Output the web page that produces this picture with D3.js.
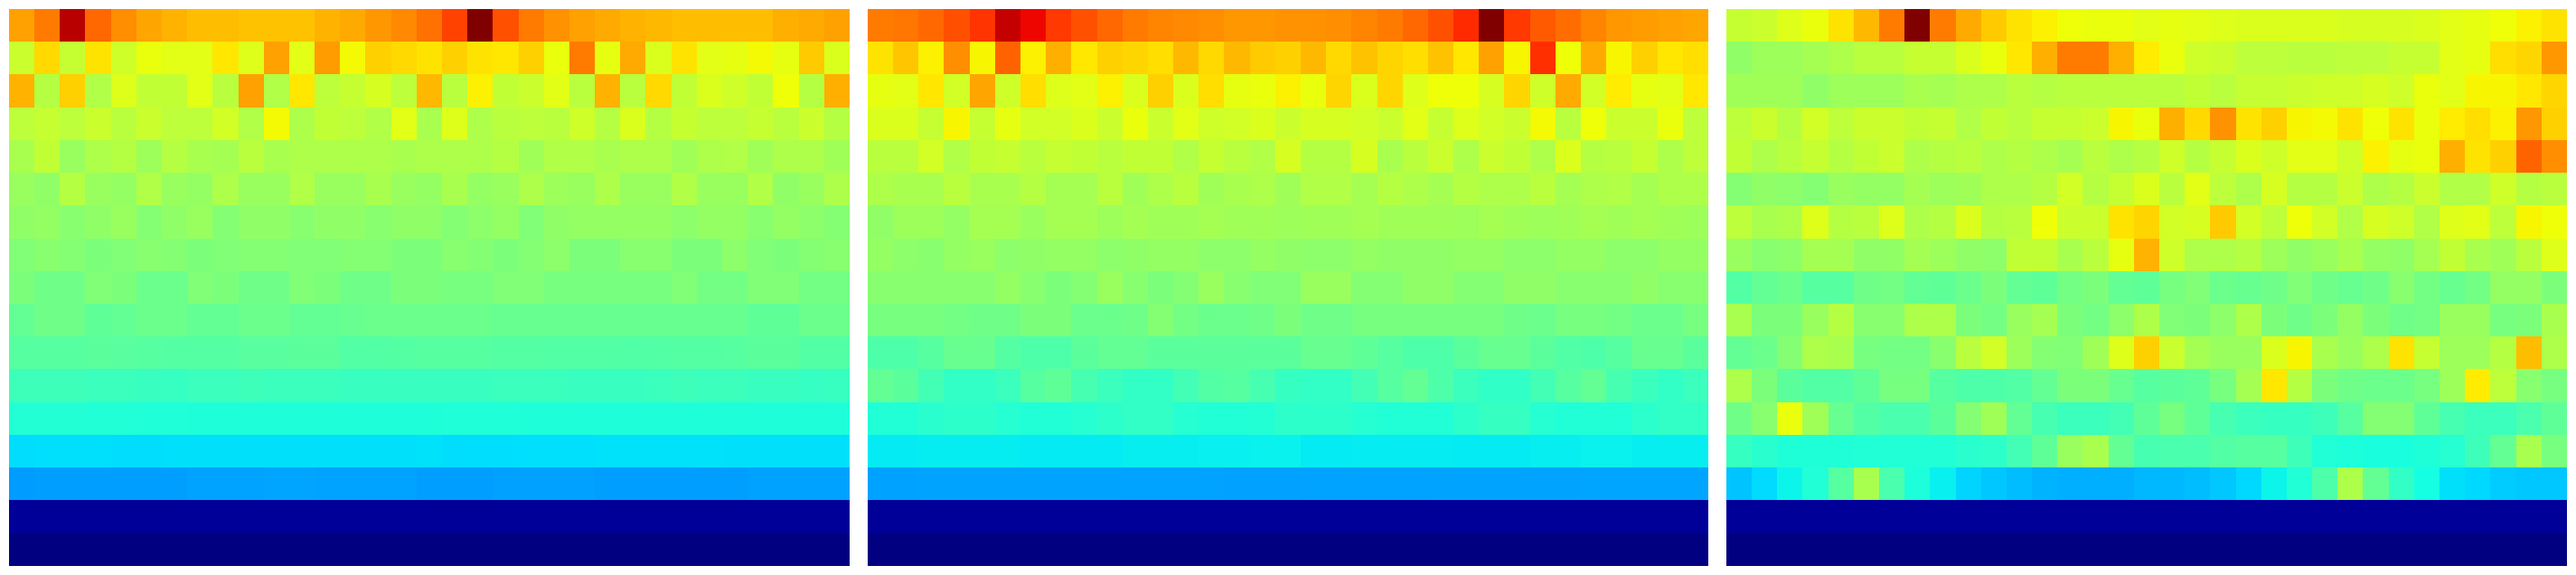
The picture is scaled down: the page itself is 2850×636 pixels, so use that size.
<!DOCTYPE html>
<html>
<head>
<meta charset="utf-8">
<script src="https://cdn.jsdelivr.net/npm/d3@7"></script>
<style>html,body{margin:0;padding:0;background:#fff}svg{display:block}</style>
</head>
<body>
<script>
const panelA = [
[74,78,95,80,76,73.5,72,71,71,70.5,70.5,70.5,72,73,75,76.5,79,84,100,82.5,78,75.5,74,73,72,71.5,71,71,71,71,72.5,73,74],
[59.5,68,59,67,60,63.5,62.5,62.5,66.5,62,74,62.5,74.5,64.5,69,68,67,69,67,66.5,69,63.5,78,63,73,61.5,67,62.5,63,64.5,63,69.5,61.5],
[72,57,69,56.5,62,58.5,58.5,62.5,57.5,74,56.5,66.5,58,59,61,58,71.5,57.5,65.5,58.5,59.5,62.5,57.5,72,57.5,68,58.5,61.5,60,58.5,64,57,72.5],
[58,59,58,59.5,57.5,59.5,58,58,60.5,56.5,64.5,56,58.5,58,56.5,62.5,55.5,62,56,57.5,58,57.5,60,57,61.5,57,59,58,58,59,57.5,59.5,57],
[55.5,58.5,53.5,56,57,54,57,55.5,55,57.5,55.5,56,56,56,56,55.5,56,56,56,57,54.5,56.5,56.5,55.5,56,56,54.5,56,56.5,54.5,56,56,54.5],
[53.5,52.5,57,53.5,53,56.5,53.5,53,56,53.5,53.5,56.5,53.5,53.5,55.5,53.5,53,55.5,53,53.5,56,54,53.5,56,53.5,53.5,56.5,53.5,53.5,56.5,52.5,53.5,56],
[52.5,53,51.5,52.5,53.5,51,52.5,53.5,51,52.5,52.5,51.5,52.5,52.5,51.5,52.5,52.5,51,52,53,50.5,52.5,53,53,53,53,52,53,53,51.5,53,52,51],
[50.5,51.5,51,50,50.5,51.5,51,50,50.5,51,51,50.5,50.5,51,51,50,50,51.5,51,50,51,52,50,50,51.5,51.5,50,50,52,50.5,50,51,51.5],
[50,48.5,48.5,50.5,50,48,48,50.5,50,48.5,48.5,50.5,50,48.5,48.5,50,50,49.5,49.5,50.5,50.5,49.5,49.5,49.5,49.5,49.5,50.5,49,49,50.5,50.5,49,49],
[47,48.5,48.5,46.5,47,48,48,47,47,48,48,47,47,47.5,48,48,48,48,48,47.5,47.5,47.5,47.5,47.5,47.5,47.5,47.5,47.5,47.5,46.5,46.5,48,48],
[45.5,45.5,45.5,46,45.8,45.5,45.2,45.2,45.2,45.8,45.8,46,46,45,45,45.2,45.5,45.5,45.5,45.2,45.2,45,45,45,44.8,45,45.2,45.2,45.5,46,46,45,45],
[42.5,42.5,42.5,42,42,41.8,41.5,42.2,42.2,42.4,42,42,42,41.8,41.8,41.8,41.8,41.8,41.8,42,42,42,41.8,41.8,41.8,42,42.4,42,42.3,41.8,41.8,41.4,41.6],
[39.2,39.2,39.2,39,39,38.8,38.8,38.6,38.6,38.6,38.6,38.6,38.6,38.6,38.6,38.6,38.6,38.8,38.8,38.8,38.6,38.6,38.6,38.6,38.6,38.6,38.6,38.6,38.6,38.6,38.6,38.6,38.6],
[34.2,34.4,34.4,34.4,34.2,34.2,34.5,34.5,34.5,34.5,34.5,34.5,34.5,34.5,34.5,34.5,34.6,34.2,34.3,34.3,34.4,34.4,34.4,34.6,34.6,34.6,34.6,34.7,34.5,34.5,34.5,34.5,34.5],
[27.8,28.1,28.1,28.1,28.1,28.1,28.1,28.5,28.5,28.5,28.7,28.7,28.5,28.5,28.5,28.5,28,28,28,28.3,28.3,28.3,28.3,28,28,28,28,28,28,28.4,28.4,28.4,28.4],
[2.2,2.2,2.2,2.2,2.2,2.2,2.2,2.2,2.2,2.2,2.2,2.2,2.2,2.2,2.2,2.2,2.2,2.2,2.2,2.2,2.2,2.2,2.2,2.2,2.2,2.2,2.2,2.2,2.2,2.2,2.2,2.2,2.2],
[0,0,0,0,0,0,0,0,0,0,0,0,0,0,0,0,0,0,0,0,0,0,0,0,0,0,0,0,0,0,0,0,0]
];
const panelB = [
[78,78.5,80,82.5,85.5,94,90.5,85,82.5,80,78,77,76.5,76,75,75,75.5,75.5,76,77,78,80,82.5,86.5,100,85,81.5,79.5,77,75,74.5,74,73.5],
[67,70,65.5,76,65,80.5,65.5,72.5,66.5,69,68.5,67.5,71.5,68,71.5,69.5,69,71.5,68,70.5,68.5,67.5,70.5,66.5,74,65,86,64,73,65,69,66.5,67.5],
[63,62.5,66.5,60.5,73.5,60,67.5,62,62.5,65.5,61.5,69,61.5,67.5,63,63.5,65.5,63.5,68.5,61.5,68.5,62,64,64,61,68.5,60,73,60.5,66,63,62.5,66.5],
[61.5,61.5,59,65,59,63,60.5,60.5,61.5,59.5,63.5,59.5,62.5,60,60.5,61.5,59.5,61,61,60.5,59.5,62.5,59,62,60.5,59.5,64.5,57.5,64,59.5,59.5,63.5,58],
[57.5,57.5,60.5,56.5,58.5,59,57.5,59,58.5,57.5,58.5,58.5,56.5,59,57.5,56.5,61,57,57,61,55.5,57.5,59.5,56,59.5,58.5,56,61.5,57,57.5,59,56,58],
[56,55.5,55.5,57.5,55.5,55.5,57,55,55,57.5,54.5,56,57.5,54.5,55.5,56,54.5,56.5,56.5,55,57,56,55,57,56,56,57.5,55,56,56.5,55,56,56],
[52.5,54,54,53,55,55,53.5,55,55,54,55,54.5,54.5,55,54.5,54.5,54,54.5,54.5,55,54.5,54.5,54.5,54,55,54.5,54,54.5,55,54.5,55,54.5,54],
[53,52,51.5,53,53.5,52,52.5,53,53,52,52.5,53,53,52,52,53,52.5,52,52,53,52.5,52.5,52.5,53,53,52,52,53,53,52,52,53,53],
[51.5,51.5,51.5,51.5,51.5,53,51.5,50,51,53.5,51.5,50,51,53.5,51.5,50.5,50.5,53.5,53.5,51,51,52.5,52.5,51,51,52.5,52.5,51.5,51.5,51.5,52.5,51.5,51.5],
[49.5,49.5,49.5,49,48.5,48.5,50,50,48,48,48.5,51,49,48,48,48.5,50,48.5,48.5,49.5,49.5,49.5,49.5,49.5,49.5,48.5,48,49.5,49.5,49,48,48,49.5],
[44.5,44.5,45.5,47.5,47.5,45.2,44.5,44.5,46,47,47,46,46,46,46,46,46,47.5,47.5,46.5,45.5,44.5,44.5,46,47.5,47.5,46,44.8,44.5,45.5,47.5,47.5,46],
[47,46,43,41,41,42,45.5,46.5,43.5,42,41,41,43,45,45.5,43.5,41.5,41,41,43,45.5,47,44.5,42,40.8,40.8,43,45.5,47,43.5,42,41,42],
[39,39,40,40.5,40.5,39.5,39,39,39.5,40.5,41,41,39.5,39,39,39.2,40.5,40.5,40.5,39.5,39,39,39,40.5,41.5,41.5,39.5,39,39,39,40.2,41,41],
[35.5,35.5,35.7,35.7,35.7,35.7,35.5,35.5,35.5,35.5,35.8,35.8,35.8,36,36,36.2,36.2,35.5,35.5,35.6,35.6,35.6,35.6,35.5,35.5,35.5,35.8,35.8,36.2,36.2,35.8,35.8,35.8],
[28.4,28.4,28.6,28.6,28.6,28.6,28.6,28.6,28.6,28.6,28.5,28.5,28.5,28.5,28.3,28.3,28.3,28.5,28.5,28.5,28.5,28.5,28.6,28.6,28.6,28.6,28.6,28.6,28.7,28.7,28.7,28.7,28.7],
[2.2,2.2,2.2,2.2,2.2,2.2,2.2,2.2,2.2,2.2,2.2,2.2,2.2,2.2,2.2,2.2,2.2,2.2,2.2,2.2,2.2,2.2,2.2,2.2,2.2,2.2,2.2,2.2,2.2,2.2,2.2,2.2,2.2],
[0,0,0,0,0,0,0,0,0,0,0,0,0,0,0,0,0,0,0,0,0,0,0,0,0,0,0,0,0,0,0,0,0]
];
const panelC = [
[59,59.5,62,63.5,67,71.5,78,100,78,73,69.5,67,65.5,64,63.5,63.5,62.5,63,62.5,62,61.5,61.5,61.5,61.5,61,61,61,61.5,62.5,63,64,65.5,67],
[52.5,54,54,55,56,57.5,57.5,59,59,61.5,63.5,66.5,72.5,78,78,72.5,66,63.5,60,59.5,58,58,57.5,57.5,58,58,59,59,62.5,63,67.5,68.5,75],
[54.5,54.5,54.5,52.5,54,54,54,55.5,55,56,56,57.5,57,57.5,57.5,57.5,57.5,57.5,58.5,57.5,59,59,59.5,60,60,61,60,63.5,62.5,65,65,66.5,68.5],
[58,59.5,57,60.5,58,59.5,59.5,58.5,59,56.5,58.5,57.5,59,59,59.5,65,63.5,72.5,68,75.5,67,69,65,64.5,67,64,67,63.5,66,67.5,65.5,75,69],
[58.5,56,57.5,59,57,58.5,59.5,56,57,57.5,56,57,56,55,57.5,56,57,60,57,59,61.5,60,62.5,62.5,60,65.5,63,63.5,72.5,67,69,80.5,76],
[51,52.5,52,51,53.5,53,53,55,54,54.5,56,56,57,60.5,57,59,61.5,57.5,62.5,58,56,61,57,57,59.5,56,57,59.5,56.5,56.5,60,57,57.5],
[58,55.5,56,62,57,57.5,62,56,57,61.5,57,57.5,64,59.5,59.5,67,68.5,60.5,61,69.5,60.5,58,64,60.5,56.5,61,60,56.5,62,62.5,58,65,64],
[53.5,51.5,52,55,55,52.5,52.5,55,54,52.5,52,58.5,58.5,55.5,57.5,63,72,60,56,56,57,54,52.5,53.5,55.5,53,52.5,55,58.5,55.5,54.5,57.5,62],
[45,47,48,45.5,45.5,48.5,49,47,46.5,48,50,47,46.5,49,50,47,46.5,49.5,50.5,48,47.5,48.5,50.5,48.5,47.5,48.5,51.5,49,47.5,49,53,53,50],
[55.5,50,50,53.5,57,51.5,51.5,56,56,50,49,53.5,55,50,49,52,56,50.5,50,52,56,50,48.5,50,53,50,48.5,49,53.5,53.5,49.5,50,55.5],
[47,48,51,56,55.5,49.5,49,49,51.5,57.5,60.5,54,51,50.5,54.5,62,69,59.5,55,53.5,53.5,61.5,65,55.5,53.5,56,67,59,54,54,57,71,56],
[56,50,46,45,45,46.5,49.5,49.5,45.5,44.5,44.5,45,47,50,50,47.5,45.5,46,46.5,49.5,55,66.5,57,50,48.5,48,48,49.5,54,66,58,51.5,49.5],
[48.5,51.5,63.5,54.5,47.5,45,44,44,46,51,54.5,47,43.5,42,42,43,46.5,49.5,46.5,43.5,42,41.5,41.5,42.5,45.5,51,51,46.5,43.5,42,42,44,46.5],
[41.5,40,38.7,38.7,38.7,39,39,39,39,40,40.5,43,46.5,53.5,55.5,47,43.5,44,44,45,45.5,45.5,42.5,39,38.5,38,38,38.7,39.5,42.5,47,55.5,49.5],
[31.7,34,36.5,39,45.5,55.5,44,38.5,36,33.3,32,31,30,29.7,29.7,29.7,30.5,30.5,31,32,33.8,36.5,39,44.5,56,47,41,37.5,34.5,33.8,32.5,32,32],
[2.2,2.2,2.2,2.2,2.2,2.2,2.2,2.2,2.2,2.2,2.2,2.2,2.2,2.2,2.2,2.2,2.2,2.2,2.2,2.2,2.2,2.2,2.2,2.2,2.2,2.2,2.2,2.2,2.2,2.2,2.2,2.2,2.2],
[0,0,0,0,0,0,0,0,0,0,0,0,0,0,0,0,0,0,0,0,0,0,0,0,0,0,0,0,0,0,0,0,0]
];
const panels = [panelA, panelB, panelC];

// matplotlib "jet" colormap knots
const jetR = d3.scaleLinear().domain([0, 35, 66, 89, 100]).range([0, 0, 1, 1, 0.5]).clamp(true);
const jetG = d3.scaleLinear().domain([0, 12.5, 37.5, 64, 91, 100]).range([0, 0, 1, 1, 0, 0]).clamp(true);
const jetB = d3.scaleLinear().domain([0, 11, 34, 65, 100]).range([0.5, 1, 1, 0, 0]).clamp(true);
const jet = v => d3.rgb(jetR(v) * 255, jetG(v) * 255, jetB(v) * 255).formatHex();

const width = 2850, height = 636, nCols = 33, nRows = 17;
const panelPos = d3.scaleLinear().domain([0, 1]).range([10, 960]);
const panelW = 930;
const y = d3.scaleLinear().domain([0, nRows]).range([10, 626]);
const snap = v => Math.floor(v + 0.4);

panels.forEach((m, p) => { m.forEach((r, i) => { if (r.length !== nCols) throw new Error(`panel ${p} row ${i} has ${r.length}`); }); });

const svg = d3.select('body').append('svg').attr('width', width).attr('height', height);

panels.forEach((matrix, p) => {
  const x = d3.scaleLinear().domain([0, nCols]).range([panelPos(p), panelPos(p) + panelW]);
  const cells = matrix.flatMap((row, r) => row.map((v, c) => ({ r, c, v })));
  svg.append('g').selectAll('rect').data(cells).join('rect')
    .attr('x', d => snap(x(d.c)))
    .attr('y', d => snap(y(d.r)))
    .attr('width', d => snap(x(d.c + 1)) - snap(x(d.c)))
    .attr('height', d => snap(y(d.r + 1)) - snap(y(d.r)))
    .attr('fill', d => jet(d.v))
    .attr('shape-rendering', 'crispEdges');
});
</script>
</body>
</html>
